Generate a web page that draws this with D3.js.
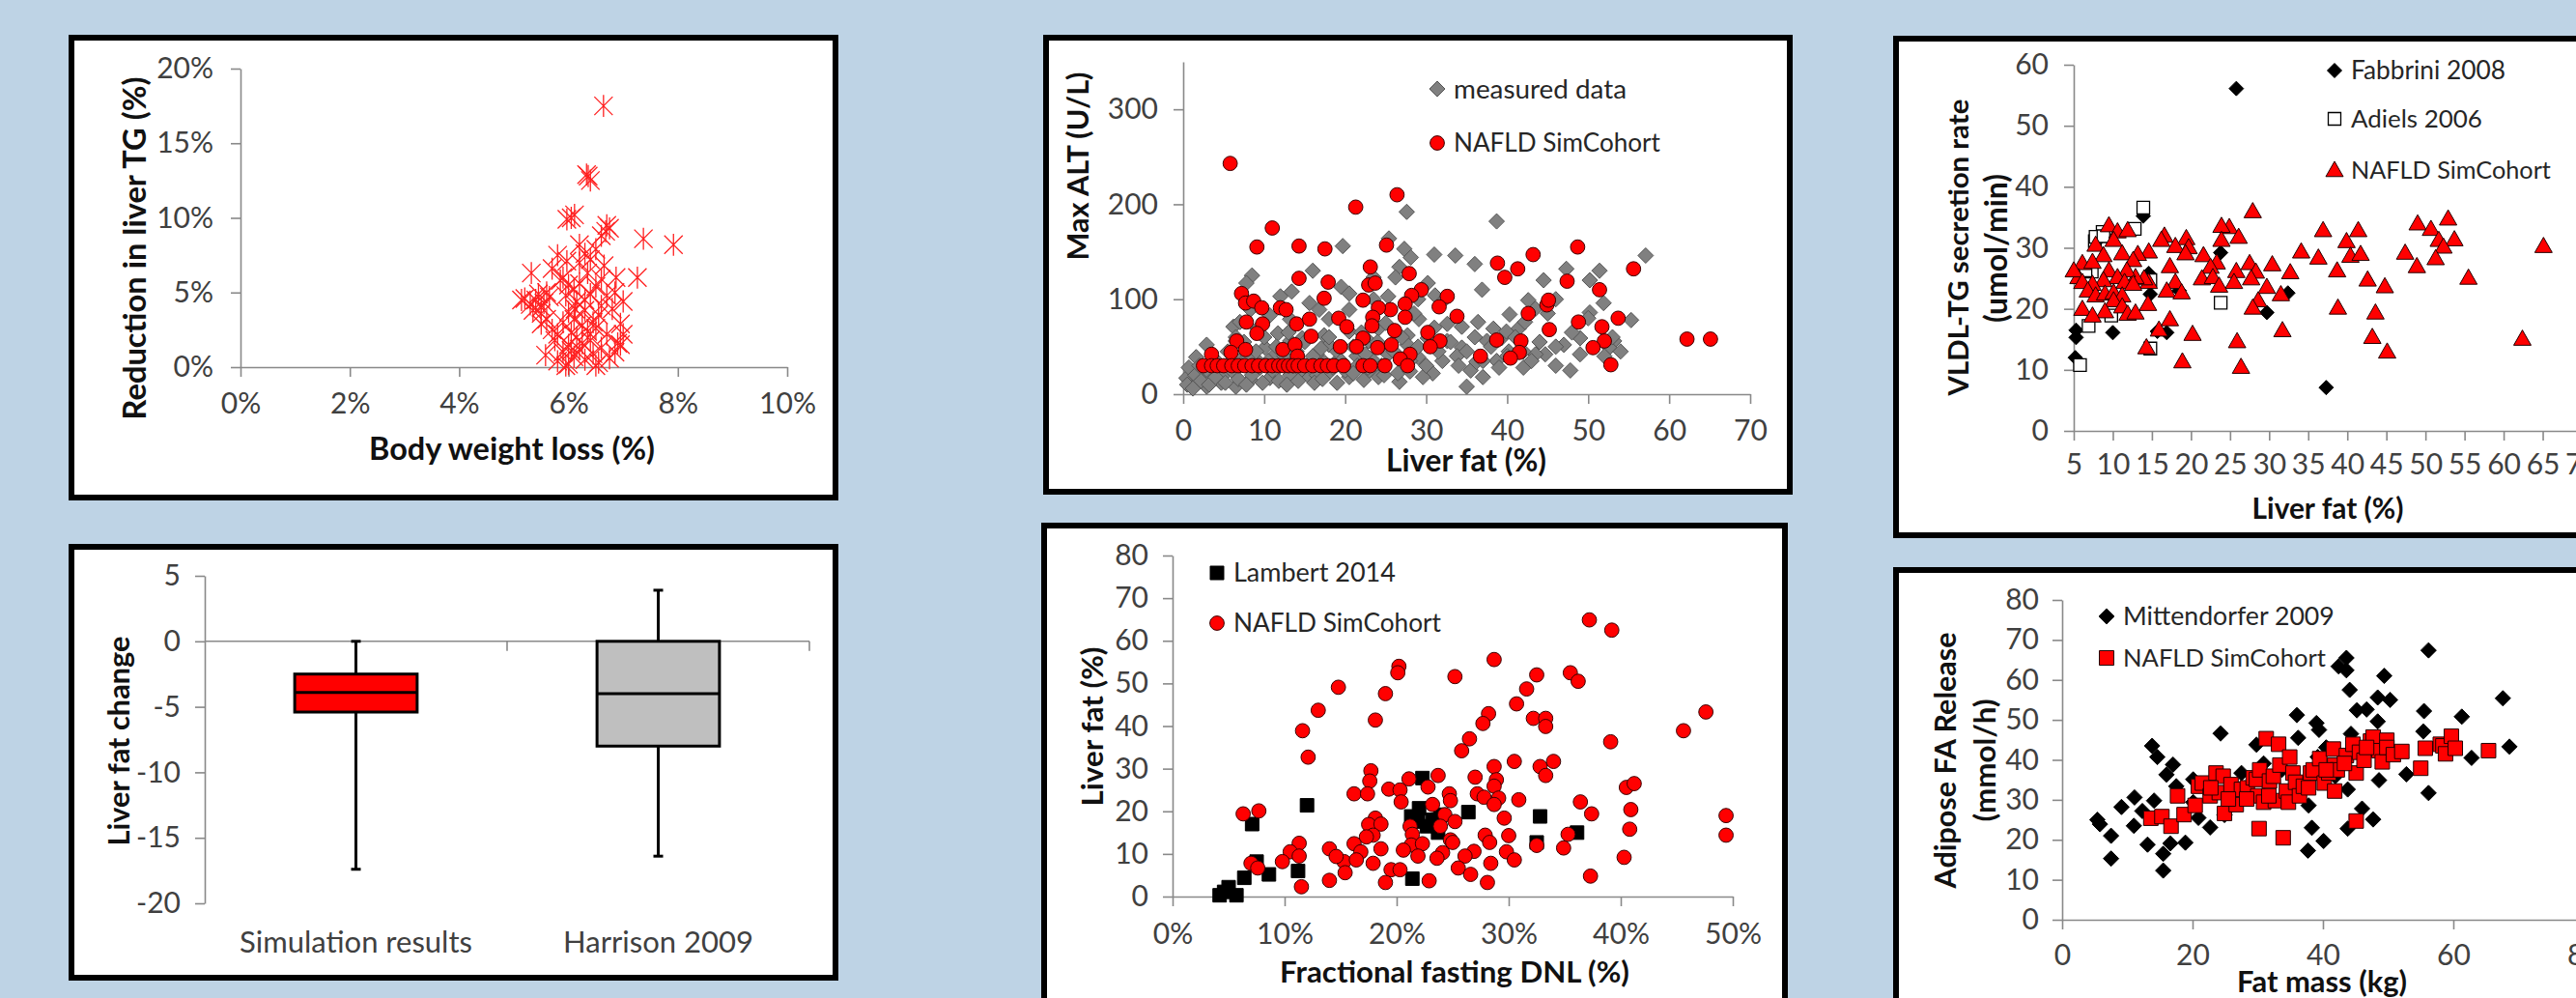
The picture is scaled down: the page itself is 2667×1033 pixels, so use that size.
<!DOCTYPE html>
<html><head><meta charset="utf-8">
<script src="https://cdn.jsdelivr.net/npm/d3@7"></script>
<style>
body{margin:0;background:#BED3E5;}
svg{display:block;}
text{font-family:Lato,"Open Sans",sans-serif;}
</style></head><body>
<svg id="c" width="2667" height="1033"></svg>
<script>
// ---------------- DATA ----------------
// Panel 1: body weight loss (%) vs reduction in liver TG (%)
const p1Points = [[6.64,17.5],[6.36,12.8],[6.40,12.5],[6.33,12.9],[5.97,9.9],[6.11,10.2],[6.05,10.0],[6.68,9.1],[6.70,9.5],[6.75,9.3],[7.37,8.6],[7.92,8.2],[7.26,6.0],[6.87,6.0],[5.32,6.3],[5.97,7.1],[6.2,8.2],[6.3,7.6],[6.5,7.9],[6.6,8.8],[5.8,7.5],
[5.2,4.6],[5.3,4.2],[5.4,4.5],[5.45,4.9],[5.5,4.0],[5.5,3.6],[5.55,4.3],[5.6,3.2],[5.35,3.8],[5.6,5.0],[5.5,2.9],[5.7,2.5],[5.65,4.7],[5.14,4.5],[5.58,0.8],
[5.8,0.4],[5.9,1.0],[6.0,0.2],[6.0,1.5],[6.05,2.3],[6.1,0.7],[6.1,3.2],[6.15,4.4],[6.2,1.2],[6.2,5.6],[6.25,2.8],[6.3,0.5],[6.3,3.8],[6.35,6.3],[6.4,1.8],[6.4,4.9],[6.45,0.9],[6.5,2.6],[6.5,5.4],[6.55,3.5],[6.6,1.3],[6.6,4.1],[6.65,6.8],[6.7,2.2],[6.75,0.6],[6.8,3.9],[6.85,5.0],[6.9,1.6],[6.95,2.9],[7.0,4.4],[5.9,3.0],[5.95,4.8],[5.85,5.8],[5.75,1.8],[5.7,6.6],[5.9,6.0],[6.0,3.7],[6.1,5.2],[6.2,7.0],[6.15,2.0],[6.3,4.5],[6.45,3.0],[6.55,0.3],[6.6,5.9],[6.05,1.1],[6.25,1.6],[6.4,7.2],[5.8,2.2],[6.7,4.8],[6.0,5.5],[6.85,1.0],[7.0,2.2],[6.35,2.4],[6.12,3.9],[5.95,0.1],[6.5,0.1],[6.95,1.5]];
const p1XTicks = [0,2,4,6,8,10];
const p1YTicks = [0,5,10,15,20];

// Panel 2: box plots of liver fat change
const p2Cats = ["Simulation results","Harrison 2009"];
const p2Min = [-17.4,-16.4];
const p2Q1  = [-5.4,-8.0];
const p2Med = [-3.9,-4.0];
const p2Q3  = [-2.5,0.0];
const p2Max = [0.0,3.9];
const p2Colors = ["#FF0000","#BFBFBF"];
const p2YTicks = [-20,-15,-10,-5,0,5];

// Panel 3: liver fat (%) vs max ALT (U/L)
const p3Measured = [[27.6,192],[38.7,182],[25.4,164],[19.7,156],[16.0,130],[57.1,146],[31.0,147],[33.6,146],[36.0,137],[27.3,153],[28.1,144],[26.7,134],[26.2,123],[47.3,132],[51.4,130],[8.5,125],[7.8,117],[19.5,113],[36.9,110],[44.5,120],[50.2,120],[51.9,96],[13.4,108],[12.0,103],[31.1,104],[32.3,100],[40.3,84],[42.6,99],[43.5,90],[50.2,86],[55.3,78],[36.4,76],[34.4,71],[38.3,69],[32.6,74],[29.1,79],[18.0,79],[16.8,89],[15.6,96],[6.2,71],[7.0,76],[9.2,69],[11.7,64],[13.2,56],[14.7,59],[17.4,62],[20.5,66],[24.1,69],[27.7,62],[30.2,59],[34.4,49],[37.5,56],[39.3,59],[41.4,69],[44.7,42],[47.0,52],[47.8,25],[49.0,59],[53.2,56],[42.0,28],[38.7,35],[37.0,18],[35.0,8],[35.5,25],[32.0,35],[30.8,22],[29.6,18],[26.7,13],[24.1,18],[22.3,15],[20.5,18],[18.0,23],[15.6,18],[13.2,20],[10.7,17],[8.3,15],[6.5,8],[4.7,12],[2.9,8],[1.0,12],[0.4,17],[1.6,39],[0.7,28],[2.5,22],[4.1,35],[5.9,35],[7.4,39],[9.2,35],[11.4,42],[13.8,39],[16.5,42],[19.2,37],[21.4,40],[23.5,35],[25.3,42],[29.0,39],[33.8,40],[36.2,34],[40.2,45],[43.5,42],[52.6,49],[46.0,50],[2.9,52],[6.5,56],[10.1,49],[18.0,52],[22.9,56],[27.7,52],[32.6,56],[8.3,89],[10.7,83],[13.2,79],[20.5,89],[23.5,100],[25.3,103],[29.0,100],[23.5,123],[30.2,117],[20.5,106],[42.2,76],[46.0,100],[39.9,66],
[1.5,20],[2.0,30],[3.0,25],[3.5,15],[4.5,28],[5.0,20],[5.5,45],[6.0,25],[6.5,60],[7.0,30],[7.5,55],[8.0,40],[8.5,20],[9.0,45],[9.5,28],[10.0,60],[10.5,35],[11.0,25],[11.5,50],[12.0,30],[12.5,40],[13.0,65],[13.5,30],[14.0,45],[14.5,25],[15.0,55],[15.5,30],[16.0,40],[16.5,20],[17.0,48],[17.5,33],[18.0,60],[18.5,28],[19.0,45],[19.5,35],[20.0,25],[21.0,50],[21.5,30],[22.0,65],[22.5,42],[23.0,25],[24.0,55],[24.5,30],[25.0,75],[26.0,45],[26.5,22],[27.0,60],[28.0,35],[28.5,85],[29.0,50],[30.0,30],[31.0,70],[31.5,45],[33.0,55],[34.0,30],[35.0,45],[36.0,60],[37.0,35],[38.0,50],[39.0,28],[40.0,40],[41.0,60],[42.0,45],[43.0,35],[44.0,55],[45.0,85],[46.0,30],[48.0,65],[49.0,42],[50.0,80],[52.0,40],[53.0,60],[54.0,45],[0.5,10],[1.2,6],[2.2,14],[3.2,10],[4.0,18],[5.2,12],[6.8,16],[7.8,10],[9.8,12],[11.8,14],[12.8,10],[14.2,14],[16.2,12],[17.2,16],[19.0,12],[21.0,22],[22.8,28],[24.8,20],[28.0,24]];
const p3Sim = [[5.8,243],[26.4,210],[21.3,197],[11.0,175],[9.1,155],[14.3,156],[17.5,153],[25.1,157],[48.7,155],[43.2,147],[38.8,138],[41.3,132],[39.7,123],[55.6,132],[47.4,119],[23.1,134],[27.9,127],[14.3,122],[17.9,118],[51.4,110],[29.4,110],[22.9,115],[23.7,117],[7.2,106],[7.7,96],[8.7,98],[9.7,91],[12.0,91],[12.7,89],[22.2,99],[17.4,101],[28.2,104],[32.6,103],[31.6,92],[25.6,89],[24.1,91],[27.4,95],[44.9,94],[45.1,99],[42.6,85],[33.8,82],[53.7,80],[7.8,76],[9.8,74],[14.0,74],[15.6,79],[19.2,80],[23.4,81],[27.4,81],[48.8,76],[51.7,71],[9.1,64],[15.8,61],[26.1,67],[20.2,71],[23.3,72],[30.2,65],[45.2,68],[62.2,58],[65.1,58],[38.7,57],[41.7,56],[52.0,56],[6.6,56],[31.7,56],[22.2,59],[30.5,50],[21.4,50],[19.4,50],[25.7,52],[24.0,49],[50.6,49],[5.9,44],[7.7,47],[12.3,47],[13.8,52],[14.1,40],[41.5,44],[40.4,38],[36.7,40],[28.0,42],[26.8,37],[52.8,31],[3.5,42],[27.7,30],
[2.5,30],[3.5,30],[4.2,30],[5.0,30],[6.0,30],[6.8,30],[7.6,30],[8.5,30],[9.3,30],[10.2,30],[11.0,30],[11.8,30],[12.4,30],[13.0,30],[13.6,30],[14.2,30],[15.0,30],[16.0,30],[17.0,30],[17.8,30],[18.6,30],[19.8,30],[22.2,30],[23.1,30],[24.9,30]];
const p3XTicks = [0,10,20,30,40,50,60,70];
const p3YTicks = [0,100,200,300];

// Panel 4: fractional fasting DNL (%) vs liver fat (%)
const p4Lambert = [[4.2,0.3],[5.0,2.2],[5.7,0.3],[6.4,4.4],[7.1,17.0],[7.5,8.2],[8.6,5.2],[11.2,6.0],[12.0,21.4],[21.4,4.2],[22.3,27.8],[22.0,20.7],[21.3,18.8],[21.9,17.6],[22.7,16.5],[23.2,18.0],[23.7,15.0],[23.9,19.2],[26.4,19.8],[32.8,18.8],[32.5,12.7],[36.1,15.0],[4.6,1.1]];
const p4Sim = [[37.2,64.9],[39.2,62.5],[28.7,55.6],[20.2,54.0],[20.1,52.5],[25.2,51.6],[32.5,52.0],[35.5,52.5],[36.2,50.5],[14.8,49.1],[19.0,47.6],[31.6,48.7],[30.7,45.2],[13.0,43.7],[47.6,43.3],[28.2,42.9],[27.7,40.6],[18.1,41.4],[32.2,41.8],[33.3,41.8],[33.3,39.9],[11.6,38.9],[45.6,38.9],[26.5,37.0],[25.8,34.2],[39.1,36.3],[12.1,32.7],[30.5,31.7],[34.0,31.7],[32.8,30.5],[28.7,30.5],[17.7,29.5],[33.3,28.4],[23.7,28.4],[21.1,27.6],[17.6,27.1],[27.0,28.0],[28.9,27.4],[28.7,25.9],[40.5,25.6],[41.2,26.5],[22.8,25.7],[19.3,25.2],[20.3,25.0],[16.2,24.1],[17.4,24.1],[24.7,24.1],[27.2,24.1],[27.8,23.3],[29.1,23.1],[30.9,22.7],[24.8,22.5],[36.4,22.2],[20.4,22.2],[23.2,21.6],[28.7,21.6],[40.9,20.4],[6.3,19.4],[7.7,20.1],[37.4,19.4],[49.4,19.0],[29.6,18.4],[24.3,19.2],[18.1,18.4],[25.2,17.6],[17.5,16.9],[18.6,17.0],[21.2,16.5],[23.9,16.5],[40.8,15.8],[27.9,14.4],[35.3,14.6],[49.4,14.4],[17.9,14.4],[21.4,14.6],[30.0,14.3],[17.3,14.0],[24.8,13.3],[25.0,12.7],[28.3,12.7],[11.3,12.5],[16.2,12.4],[21.3,12.1],[32.5,12.0],[22.3,12.4],[10.5,10.5],[14.0,11.2],[18.6,11.2],[20.6,10.9],[11.3,9.5],[16.8,10.5],[29.8,10.5],[34.9,11.4],[24.1,10.3],[26.9,10.6],[9.8,8.2],[7.0,7.8],[15.3,8.2],[16.4,8.6],[17.9,7.8],[21.9,9.5],[23.6,9.0],[26.1,9.5],[30.5,8.6],[40.3,9.2],[14.6,9.4],[7.6,6.7],[19.5,6.3],[20.3,6.3],[25.5,6.7],[28.4,7.8],[15.4,5.6],[26.6,5.2],[37.3,4.8],[14.0,3.8],[19.0,3.3],[22.9,3.7],[28.1,3.3],[11.5,2.3]];
const p4XTicks = [0,10,20,30,40,50];
const p4YTicks = [0,10,20,30,40,50,60,70,80];

// Panel 5: liver fat (%) vs VLDL-TG secretion rate (umol/min)
const p5Fabbrini = [[25.8,56.1],[13.9,35.2],[23.8,29.2],[14.8,22.4],[32.4,22.6],[29.7,19.4],[10.0,16.1],[16.9,16.1],[5.3,16.5],[5.3,15.3],[5.2,12.0],[37.3,7.1],[18.5,23.0],[14.6,25.8],[15.7,16.3]];
const p5Adiels = [[13.9,36.6],[12.8,33.1],[8.7,32.6],[7.7,31.1],[7.8,31.8],[8.8,31.9],[23.8,21.0],[14.8,24.7],[14.8,13.5],[9.8,18.9],[6.9,17.2],[5.8,10.8],[7.3,26.1],[6.5,26.3]];
const p5Sim = [[27.9,36.0],[52.9,34.8],[49.0,34.0],[50.7,33.1],[36.9,32.9],[41.4,32.9],[24.9,33.4],[23.9,33.6],[9.5,33.7],[10.6,32.7],[26.1,31.8],[23.9,31.3],[11.9,32.9],[16.6,32.0],[16.2,31.3],[19.4,31.6],[39.9,31.1],[51.7,31.3],[53.7,31.4],[65.1,30.3],[52.3,30.2],[19.7,30.1],[18.0,30.3],[7.8,30.5],[10.1,31.3],[34.1,29.4],[36.3,28.4],[40.4,28.7],[41.7,29.0],[47.4,29.2],[51.3,28.3],[48.9,27.0],[30.4,27.3],[27.5,27.5],[21.6,28.8],[19.3,29.1],[14.6,29.4],[13.2,29.0],[11.2,29.1],[8.8,28.8],[6.1,27.5],[7.4,27.7],[9.5,26.3],[17.3,27.0],[23.3,27.6],[22.5,26.9],[12.6,28.0],[32.7,26.0],[38.7,26.3],[55.5,25.1],[42.6,24.8],[44.8,23.7],[28.3,26.1],[25.8,26.2],[21.4,25.0],[22.8,25.2],[25.5,24.4],[27.7,25.0],[23.6,23.8],[29.7,23.6],[18.0,24.4],[16.9,23.0],[14.6,24.4],[14.0,25.0],[12.9,25.2],[11.8,26.3],[10.6,25.2],[11.5,24.4],[12.6,24.1],[8.8,24.7],[7.4,24.1],[5.6,25.2],[5.0,26.3],[6.1,24.4],[6.8,23.0],[7.8,22.2],[9.0,22.5],[10.1,22.7],[11.2,22.2],[10.1,21.4],[11.2,20.4],[6.1,20.0],[9.0,19.6],[7.4,18.9],[11.9,19.2],[12.9,19.4],[14.5,20.8],[18.8,22.7],[28.6,21.4],[27.9,20.2],[31.5,22.4],[38.8,20.2],[43.6,19.4],[15.9,16.6],[17.3,18.3],[20.2,15.9],[31.7,16.5],[43.2,15.4],[45.1,13.0],[62.4,15.1],[25.9,14.7],[14.3,13.7],[18.9,11.4],[26.4,10.5]];
const p5XTicks = [5,10,15,20,25,30,35,40,45,50,55,60,65,70];
const p5YTicks = [0,10,20,30,40,50,60];

// Panel 6: fat mass (kg) vs adipose FA release (mmol/h)
const p6Mittendorfer = [[5.4,25.0],[5.8,23.9],[7.5,21.0],[7.5,15.3],[9.1,28.2],[11.1,30.6],[11.0,23.5],[12.3,27.2],[13.1,18.8],[13.8,43.5],[14.1,29.8],[14.6,40.7],[15.5,16.5],[15.5,12.3],[16.0,36.3],[16.6,19.1],[17.0,38.8],[17.5,33.4],[18.9,19.3],[20.1,35.1],[20.9,25.5],[22.7,23.1],[24.3,46.6],[24.9,26.2],[27.5,36.7],[29.8,43.8],[30.9,39.1],[36.0,51.2],[36.2,45.5],[37.7,17.3],[37.8,28.6],[38.3,23.0],[39.0,49.2],[39.4,47.5],[40.1,19.7],[40.5,43.1],[42.4,63.4],[43.6,65.5],[43.6,62.4],[44.1,57.5],[43.8,32.6],[43.8,22.8],[44.3,46.5],[45.2,52.4],[46.0,27.8],[46.7,52.6],[47.7,25.1],[48.4,55.6],[48.4,49.6],[48.6,34.9],[49.4,61.0],[50.3,55.0],[52.8,36.4],[55.5,52.2],[55.4,47.1],[56.2,67.4],[56.2,31.7],[61.3,50.8],[62.8,40.5],[67.6,55.4],[68.6,43.3],[33.7,37.5],[37.1,34.2],[41.9,35.9],[20.1,29.4],[39.2,40.7]];
const p6Sim = [[13.6,25.4],[15.3,25.8],[16.7,23.4],[17.7,31.0],[18.7,26.3],[20.4,28.6],[20.9,33.4],[21.5,34.2],[22.7,31.0],[23.6,36.7],[24.1,31.8],[24.7,35.9],[24.9,26.6],[25.9,33.8],[26.7,28.8],[27.5,32.6],[28.4,33.0],[29.3,35.5],[30.0,31.0],[29.8,35.1],[30.3,37.5],[30.9,29.4],[31.3,45.3],[31.8,34.7],[30.2,22.8],[32.4,35.9],[32.7,29.8],[33.2,43.9],[33.4,38.7],[33.9,20.5],[34.4,32.2],[34.7,29.4],[34.9,40.7],[35.4,36.7],[35.8,34.4],[36.4,31.0],[37.0,33.4],[38.1,36.7],[38.5,37.5],[39.5,40.3],[40.2,34.2],[40.9,36.7],[41.6,42.7],[41.8,38.7],[41.8,32.2],[42.2,37.5],[43.6,41.1],[44.6,43.9],[45.1,36.7],[45.1,24.7],[45.6,41.9],[46.3,39.9],[47.3,44.7],[47.7,45.7],[48.6,42.3],[49.1,39.5],[49.8,44.9],[49.8,43.1],[50.8,41.3],[52.1,42.1],[55.0,37.9],[55.7,42.9],[58.0,43.9],[58.4,43.5],[58.8,41.5],[59.7,45.9],[60.3,42.9],[65.4,42.3],[22.8,33.0],[25.5,30.2],[28.3,30.2],[31.7,31.0],[37.8,33.0],[40.5,37.5],[43.3,39.1],[46.7,43.1]];
const p6XTicks = [0,20,40,60,80];
const p6YTicks = [0,10,20,30,40,50,60,70,80];

// ---------------- DRAWING ----------------
const AX = "#898989", TX = "#404040", TT = "#111", FS = 30;
const svg = d3.select("#c");
svg.append("rect").attr("width",2667).attr("height",1033).attr("fill","#BED3E5");

function frame(x0,y0,x1,y1){
  svg.append("rect").attr("x",x0+3).attr("y",y0+3).attr("width",x1-x0-6).attr("height",y1-y0-6)
    .attr("fill","#fff").attr("stroke","#000").attr("stroke-width",6);
}
function txt(s,x,y,o={}){
  const size=o.size||FS;
  const t=svg.append("text").text(s).attr("font-size",size).attr("font-weight",o.bold?700:400)
    .attr("fill",o.fill||(o.bold?TT:TX)).attr("text-anchor",o.anchor||"start");
  if(o.dy) t.attr("dy",o.dy);
  if(o.width){const w=t.node().getComputedTextLength(); t.attr("font-size",size*o.width/w);}
  t.attr("transform",`translate(${x},${y})`+(o.rot?` rotate(${o.rot})`:""));
  return t;
}
function axes(x,y,o){
  const ya=d3.axisLeft(y).tickValues(o.yTicks).tickSize(10).tickSizeOuter(0).tickPadding(o.yPad).tickFormat(o.yFmt||(d=>d));
  const gy=svg.append("g").attr("transform",`translate(${x.range()[0]},0)`).call(ya);
  const all=[gy];
  if(o.xTicks){
    const xa=d3.axisBottom(x).tickValues(o.xTicks).tickSize(10).tickSizeOuter(0).tickPadding(o.xPad).tickFormat(o.xFmt||(d=>d));
    all.push(svg.append("g").attr("transform",`translate(0,${y(y.domain()[0])})`).call(xa));
  }
  all.forEach(a=>{
    a.attr("font-family","Lato, 'Open Sans', sans-serif").attr("font-size",FS);
    a.select(".domain").attr("stroke",AX).attr("stroke-width",1.6);
    a.selectAll(".tick line").attr("stroke",AX).attr("stroke-width",1.6);
    a.selectAll(".tick text").attr("fill",TX);
  });
}
const shapes={
  diamond:s=>`M0,${-s}L${s},0L0,${s}L${-s},0Z`,
  square:s=>`M${-s},${-s}H${s}V${s}H${-s}Z`,
  triangle:s=>`M0,${-s}L${s},${s*0.75}L${-s},${s*0.75}Z`,
  circle:s=>`M${s},0A${s},${s} 0 1,1 ${-s},0A${s},${s} 0 1,1 ${s},0Z`,
  asterisk:s=>`M${-s},${-s}L${s},${s}M${-s},${s}L${s},${-s}M0,${-s*1.2}V${s*1.2}`
};
function scatter(data,x,y,shape,size,fill,stroke,sw){
  svg.append("g").selectAll("path").data(data).join("path")
    .attr("transform",d=>`translate(${x(d[0])},${y(d[1])})`)
    .attr("d",shapes[shape](size)).attr("fill",fill).attr("stroke",stroke).attr("stroke-width",sw);
}
function legend(px,py,shape,size,fill,stroke,sw,label,w){
  svg.append("path").attr("transform",`translate(${px},${py})`).attr("d",shapes[shape](size))
    .attr("fill",fill).attr("stroke",stroke).attr("stroke-width",sw);
  txt(label,px+17,py,{dy:"0.35em",width:w,fill:"#262626"});
}

// ---- Panel 1
frame(71,36,868,518);
{
  const x=d3.scaleLinear([0,10],[249,815]);
  const y=d3.scaleLinear([0,20],[380,71]);
  axes(x,y,{xTicks:p1XTicks,yTicks:p1YTicks,xPad:17,yPad:18,xFmt:d=>d+"%",yFmt:d=>d+"%"});
  scatter(p1Points,x,y,"asterisk",9.5,"none","#FF2020",1.3);
  txt("Reduction in liver TG (%)",140,257,{bold:true,anchor:"middle",rot:-90,dy:"0.35em",width:355});
  txt("Body weight loss (%)",530,476,{bold:true,anchor:"middle",width:296});
}

// ---- Panel 2
frame(71,563,868,1015);
{
  const x=d3.scaleBand(p2Cats,[212,838]);
  const y=d3.scaleLinear([-20,5],[935,596]);
  axes(x,y,{yTicks:p2YTicks,yPad:15});
  const y0=y(0);
  svg.append("line").attr("x1",x.range()[0]).attr("x2",x.range()[1]).attr("y1",y0).attr("y2",y0).attr("stroke",AX).attr("stroke-width",1.6);
  p2Cats.forEach(c=>{
    const xe=x(c)+x.bandwidth();
    svg.append("line").attr("x1",xe).attr("x2",xe).attr("y1",y0).attr("y2",y0+10).attr("stroke",AX).attr("stroke-width",1.6);
  });
  const bw=x.bandwidth()*0.405;
  p2Cats.forEach((c,i)=>{
    const cx=x(c)+x.bandwidth()/2;
    const g=svg.append("g").attr("stroke","#000").attr("stroke-width",3);
    g.append("line").attr("x1",cx).attr("x2",cx).attr("y1",y(p2Min[i])).attr("y2",y(p2Max[i]));
    [p2Min[i],p2Max[i]].forEach(v=>g.append("line").attr("x1",cx-5).attr("x2",cx+5).attr("y1",y(v)).attr("y2",y(v)));
    g.append("rect").attr("x",cx-bw/2).attr("width",bw).attr("y",y(p2Q3[i])).attr("height",y(p2Q1[i])-y(p2Q3[i])).attr("fill",p2Colors[i]);
    g.append("line").attr("x1",cx-bw/2).attr("x2",cx+bw/2).attr("y1",y(p2Med[i])).attr("y2",y(p2Med[i]));
    txt(c,cx,986,{anchor:"middle",size:31});
  });
  txt("Liver  fat change",123,767,{bold:true,anchor:"middle",rot:-90,dy:"0.35em",width:217});
}

// ---- Panel 3
frame(1080,36,1856,512);
{
  const x=d3.scaleLinear([0,70],[1225,1812]);
  const y=d3.scaleLinear([0,350],[408,64]);
  axes(x,y,{xTicks:p3XTicks,yTicks:p3YTicks,xPad:17,yPad:16});
  scatter(p3Measured,x,y,"diamond",8,"#808080","#555",1);
  scatter(p3Sim,x,y,"circle",7.4,"#FF0000","#3a0000",1);
  legend(1488,92,"diamond",8,"#808080","#555",1,"measured data",179);
  legend(1488,148,"circle",7.4,"#FF0000","#3a0000",1,"NAFLD SimCohort",214);
  txt("Max  ALT (U/L)",1116,172,{bold:true,anchor:"middle",rot:-90,dy:"0.35em",width:195});
  txt("Liver fat (%)",1518,488,{bold:true,anchor:"middle",width:166});
}

// ---- Panel 4
frame(1078,541,1851,1048);
{
  const x=d3.scaleLinear([0,50],[1214,1794]);
  const y=d3.scaleLinear([0,80],[928,575]);
  axes(x,y,{xTicks:p4XTicks,yTicks:p4YTicks,xPad:18,yPad:15,xFmt:d=>d+"%"});
  scatter(p4Lambert,x,y,"square",7,"#000","#000",1);
  scatter(p4Sim,x,y,"circle",7.4,"#FF0000","#3a0000",1);
  legend(1260,593,"square",7,"#000","#000",1,"Lambert 2014",168);
  legend(1260,645,"circle",7.4,"#FF0000","#3a0000",1,"NAFLD SimCohort",215);
  txt("Liver fat (%)",1131,752,{bold:true,anchor:"middle",rot:-90,dy:"0.35em",width:165});
  txt("Fractional  fasting DNL (%)",1506,1017,{bold:true,anchor:"middle",width:362});
}

// ---- Panel 5
frame(1960,37,2690,557);
{
  const x=d3.scaleLinear([5,70],[2147,2673]);
  const y=d3.scaleLinear([0,60],[446,67]);
  axes(x,y,{xTicks:p5XTicks,yTicks:p5YTicks,xPad:14,yPad:16});
  scatter(p5Fabbrini,x,y,"diamond",7.5,"#000","#000",1);
  scatter(p5Adiels,x,y,"square",6.5,"#fff","#000",1.3);
  scatter(p5Sim,x,y,"triangle",9,"#FF0000","#200",1);
  legend(2417,73,"diamond",7.5,"#000","#000",1,"Fabbrini 2008",160);
  legend(2417,123,"square",6.5,"#fff","#000",1.3,"Adiels 2006",136);
  legend(2417,176,"triangle",9,"#FF0000","#200",1,"NAFLD SimCohort",207);
  txt("VLDL-TG secretion rate",2028,256,{bold:true,anchor:"middle",rot:-90,dy:"0.35em",width:307});
  txt("(umol/min)",2067,257,{bold:true,anchor:"middle",rot:-90,dy:"0.35em",width:154});
  txt("Liver fat (%)",2410,537,{bold:true,anchor:"middle",width:157});
}

// ---- Panel 6
frame(1960,587,2690,1048);
{
  const x=d3.scaleLinear([0,80],[2135,2675]);
  const y=d3.scaleLinear([0,80],[952,621]);
  axes(x,y,{xTicks:p6XTicks,yTicks:p6YTicks,xPad:16,yPad:14});
  scatter(p6Mittendorfer,x,y,"diamond",8,"#000","#000",1);
  scatter(p6Sim,x,y,"square",7.5,"#FF0000","#200",1);
  legend(2181,638,"diamond",8,"#000","#000",1,"Mittendorfer 2009",219);
  legend(2181,681,"square",7.5,"#FF0000","#200",1,"NAFLD SimCohort",210);
  txt("Adipose  FA Release",2014,787,{bold:true,anchor:"middle",rot:-90,dy:"0.35em",width:265});
  txt("(mmol/h)",2055,787,{bold:true,anchor:"middle",rot:-90,dy:"0.35em",width:127});
  txt("Fat mass (kg)",2404,1027,{bold:true,anchor:"middle",width:176});
}
</script>
</body></html>
